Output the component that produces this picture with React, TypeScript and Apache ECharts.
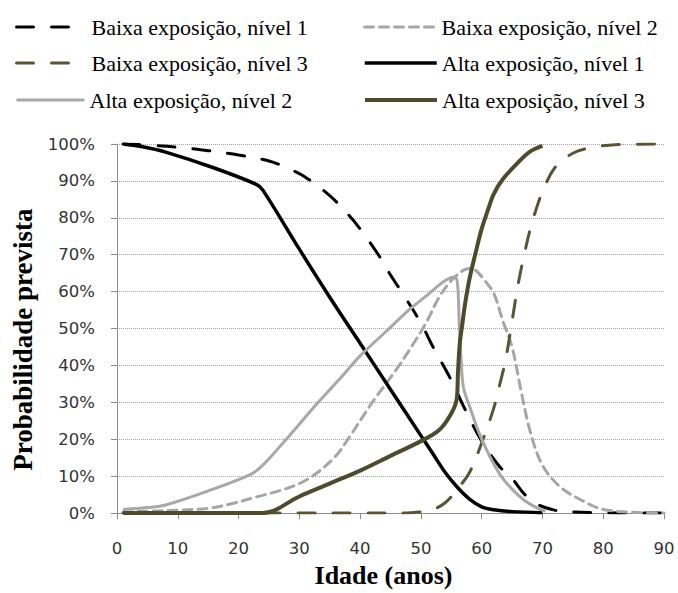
import React, { useEffect, useRef } from "react";
import * as echarts from "echarts";

const seriesNames = [
  "Baixa exposição, nível 1",
  "Baixa exposição, nível 2",
  "Baixa exposição, nível 3",
  "Alta exposição, nível 1",
  "Alta exposição, nível 2",
  "Alta exposição, nível 3",
];

const baixa1Age = [1, 5, 10, 15, 20, 25, 28, 31, 35, 38, 40, 43, 45, 47, 50, 52, 55, 57, 60, 63, 65, 67, 69, 72, 75, 80, 85, 90];
const baixa1Prob = [100, 99.7, 99.1, 98.2, 97, 95.4, 93.5, 91, 86, 81, 77, 70, 64.5, 59.5, 51.5, 45, 36, 29, 19.5, 12.5, 9.4, 5.2, 2.5, 0.8, 0.3, 0.1, 0, 0];

const baixa2Age = [1, 5, 10, 15, 19, 23, 27, 30, 33, 36, 38, 42, 46, 49, 51, 53, 55, 57, 58, 59, 60.5, 62, 63.5, 65, 66.5, 68, 70, 73, 77, 80, 85, 90];
const baixa2Prob = [0.3, 0.5, 0.8, 1.3, 2.6, 4.4, 6.2, 8, 11, 15.5, 20, 30, 39, 46.5, 52, 58.5, 63, 65.8, 66.3, 65.8, 63, 59.5, 52, 45, 33, 22, 13, 7, 3, 1, 0.2, 0];

const baixa3Age = [1, 10, 20, 30, 40, 45, 48, 50, 52, 54, 56, 58, 60, 62, 63, 64, 65, 66, 67, 68, 69, 70, 72, 75, 78, 82, 90];
const baixa3Prob = [0, 0, 0, 0, 0, 0, 0.1, 0.3, 1, 2.8, 6.5, 11, 19, 28.5, 35, 42, 52, 62, 70, 77, 82.5, 87, 93.5, 97.5, 99, 99.8, 100];

const alta1Age = [1, 4, 8, 16, 23, 24, 30, 35, 40, 45, 50, 52, 54, 56, 58, 60, 62, 65, 70];
const alta1Prob = [100, 99.3, 97.8, 93.5, 89, 87.5, 71.5, 58.5, 46, 33.5, 21, 16, 11, 7, 3.8, 1.7, 0.9, 0.4, 0.1];

const alta2Age = [1, 5, 8, 15, 22, 24, 28, 33, 37, 40, 44, 48, 51, 54, 55.5, 56, 56.3, 56.6, 57, 58, 59.5, 61, 63, 65, 67, 69, 70.5];
const alta2Prob = [1, 1.5, 2.2, 6, 10.5, 13, 20.3, 29.8, 37, 42.6, 48.8, 55, 59, 63, 64, 62.5, 52, 42, 34, 29, 22, 16.5, 10.5, 6.5, 3.5, 1.5, 0.5];

const alta3Age = [1, 10, 20, 24, 30, 35, 40, 45, 50, 53, 55, 55.9, 56.1, 56.4, 56.8, 57.3, 58, 59, 60, 61, 62, 63.5, 66, 68, 70];
const alta3Prob = [0, 0, 0, 0, 4.5, 8, 11.5, 15.5, 19.5, 22.5, 27, 31, 38, 46, 51, 57, 63.5, 70.5, 77, 82, 86.5, 90.5, 95, 98, 99.5];

const xAxisTitle = "Idade (anos)";
const yAxisTitle = "Probabilidade prevista";

const ages = [baixa1Age, baixa2Age, baixa3Age, alta1Age, alta2Age, alta3Age];
const probs = [baixa1Prob, baixa2Prob, baixa3Prob, alta1Prob, alta2Prob, alta3Prob];

const lineStyles: any[] = [
  { color: "#000000", width: 3, type: [17, 18], cap: "round" },
  { color: "#a6a6a6", width: 3, type: [9, 6], cap: "round" },
  { color: "#5a5435", width: 3, type: [17, 18], cap: "round" },
  { color: "#000000", width: 3.5, type: "solid" },
  { color: "#a8a8a8", width: 3, type: "solid" },
  { color: "#4f4a2d", width: 4, type: "solid" },
];

const legendPlaces = [
  { left: 15, top: 16, w: 70 },
  { left: 363, top: 16, w: 72 },
  { left: 15, top: 52, w: 70 },
  { left: 363, top: 52, w: 72 },
  { left: 15, top: 89, w: 68 },
  { left: 363, top: 89, w: 72 },
];

export default function App() {
  const ref = useRef<HTMLDivElement>(null);
  useEffect(() => {
    const chart = echarts.init(ref.current as HTMLDivElement, null, { renderer: "svg" });
    const series = seriesNames.map((name, i) => ({
      name,
      type: "line",
      data: ages[i].map((a, j) => [a, probs[i][j]]),
      symbol: "none",
      showSymbol: false,
      smooth: 0.35,
      lineStyle: lineStyles[i],
      itemStyle: { color: lineStyles[i].color },
      emphasis: { disabled: true },
      z: 2 + i,
    }));
    const legend = seriesNames.map((name, i) => ({
      data: [name],
      left: legendPlaces[i].left,
      top: legendPlaces[i].top,
      padding: 0,
      itemWidth: legendPlaces[i].w,
      itemHeight: 14,
      selectedMode: false,
      itemStyle: { opacity: 0, borderWidth: 0 },
      lineStyle: { width: "inherit" },
      textStyle: { fontFamily: "Liberation Serif", fontSize: 22, color: "#000" },
    }));
    chart.setOption({
      animation: false,
      backgroundColor: "#ffffff",
      legend,
      grid: { left: 117, right: 14, top: 144, bottom: 78 },
      xAxis: {
        type: "value",
        min: 0,
        max: 90,
        interval: 10,
        name: xAxisTitle,
        nameLocation: "middle",
        nameGap: 38,
        nameTextStyle: {
          fontFamily: "Liberation Serif",
          fontWeight: "bold",
          fontSize: 26,
          color: "#000",
          padding: [0, 14, 0, 0],
        },
        axisLine: { show: true, onZero: false, lineStyle: { color: "#8c8c8c", width: 1 } },
        axisTick: { show: true, length: 6, lineStyle: { color: "#8c8c8c" } },
        axisLabel: { fontFamily: "DejaVu Sans", fontSize: 16.5, color: "#333", margin: 27 },
        splitLine: { show: false },
      },
      yAxis: {
        type: "value",
        min: 0,
        max: 100,
        interval: 10,
        name: yAxisTitle,
        nameLocation: "middle",
        nameRotate: 90,
        nameGap: 79,
        nameTextStyle: {
          fontFamily: "Liberation Serif",
          fontWeight: "bold",
          fontSize: 27,
          color: "#000",
          padding: [0, 22, 0, 0],
        },
        axisLine: { show: true, lineStyle: { color: "#8c8c8c", width: 1 } },
        axisTick: { show: true, length: 6, lineStyle: { color: "#8c8c8c" } },
        axisLabel: {
          formatter: "{value}%",
          fontFamily: "DejaVu Sans",
          fontSize: 16.5,
          color: "#333",
          margin: 22,
        },
        splitLine: { show: true, lineStyle: { color: "#a0a0a0", type: [1, 1], width: 1 } },
      },
      series,
    });
    return () => chart.dispose();
  }, []);
  return (
    <div
      ref={ref}
      style={{ position: "fixed", left: 0, top: 0, width: 678, height: 593 }}
    />
  );
}
